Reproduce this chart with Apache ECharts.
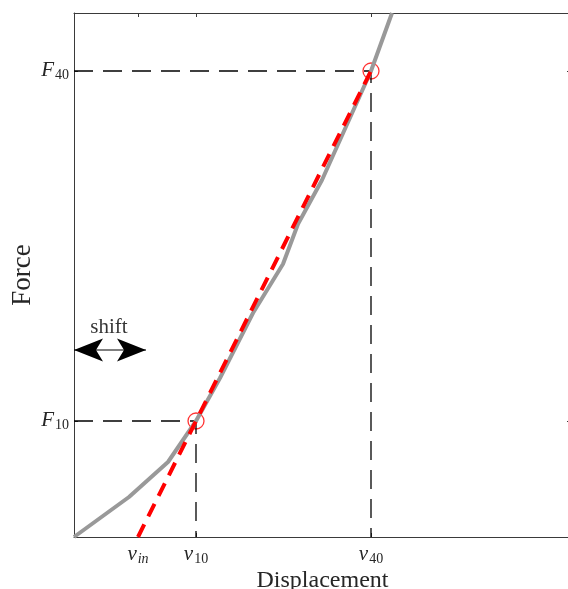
<!DOCTYPE html>
<html>
<head>
<meta charset="utf-8">
<script src="https://cdn.jsdelivr.net/npm/echarts@6/dist/echarts.min.js"></script>
<style>
html,body{margin:0;padding:0;background:#fff;}
#chart{width:568px;height:589px;}
</style>
</head>
<body>
<div id="chart"></div>
<script>
// Force-displacement curve (arbitrary units)
const curveX = [0, 55, 94, 122, 146, 179, 209, 224, 248, 297, 318];
const curveY = [0, 40, 75, 116, 159, 224, 273, 313, 357, 466, 524];
// Secant line through the 10% and 40% points, extended to zero force
const secantX = [64, 297];
const secantY = [0, 466];
// Marked points (v10,F10) and (v40,F40)
const markX = [122, 297];
const markY = [116, 466];
// Tick positions and labels
const xTickValues = [64, 122, 297];
const xTickLabels = ['{i|v}{subi|in}', '{i|v}{sub|10}', '{i|v}{sub|40}'];
const yTickValues = [116, 466];
const yTickLabels = ['{i|F}{sub|10}', '{i|F}{sub|40}'];
// Shift arrow annotation
const arrowX = [0, 72];
const arrowY = [187, 187];
const shiftText = 'shift';
const shiftPos = [35, 210];
const xName = 'Displacement';
const yName = 'Force';
const xMax = 497, yMax = 524;

const FONT = 'Liberation Serif';
const AX = '#3a3a3a';
const HEAD_L = 'path://M0 11.5 L29 0 L22 11.5 L29 23 Z';
const HEAD_R = 'path://M29 11.5 L0 0 L7 11.5 L0 23 Z';
const rich = {
  i: {fontFamily: FONT, fontStyle: 'italic', fontSize: 21, color: '#262626', lineHeight: 22, verticalAlign: 'top'},
  sub: {fontFamily: FONT, fontSize: 14, color: '#262626', lineHeight: 14, verticalAlign: 'bottom', padding: [9, 0, 0, 1]},
  subi: {fontFamily: FONT, fontStyle: 'italic', fontSize: 14, color: '#262626', lineHeight: 14, verticalAlign: 'bottom', padding: [9, 0, 0, 1]}
};

function xFmt(v) { const k = xTickValues.indexOf(v); return k >= 0 ? xTickLabels[k] : ''; }
function yFmt(v) { const k = yTickValues.indexOf(v); return k >= 0 ? yTickLabels[k] : ''; }

const chart = echarts.init(document.getElementById('chart'));
const axisCommon = {
  type: 'value', min: 0, splitLine: {show: false},
  axisLine: {show: true, onZero: false, lineStyle: {color: AX, width: 1}},
  axisTick: {show: true, inside: true, length: 4, lineStyle: {color: AX, width: 1}}
};
const option = {
  animation: false,
  backgroundColor: '#fff',
  grid: {left: 74, top: 13, width: xMax, height: yMax, containLabel: false, outerBoundsMode: 'none'},
  xAxis: [
    Object.assign({}, axisCommon, {
      max: xMax, position: 'bottom',
      axisTick: Object.assign({}, axisCommon.axisTick, {customValues: xTickValues}),
      axisLabel: {show: true, customValues: xTickValues, formatter: xFmt, margin: 7, rich: rich},
      name: xName, nameLocation: 'middle', nameGap: 32, nameMoveOverlap: false,
      nameTextStyle: {fontFamily: FONT, fontSize: 24, color: '#262626'}
    }),
    Object.assign({}, axisCommon, {
      max: xMax, position: 'top',
      axisTick: Object.assign({}, axisCommon.axisTick, {customValues: xTickValues}),
      axisLabel: {show: false}
    })
  ],
  yAxis: [
    Object.assign({}, axisCommon, {
      max: yMax, position: 'left',
      axisTick: Object.assign({}, axisCommon.axisTick, {customValues: yTickValues}),
      axisLabel: {show: true, customValues: yTickValues, formatter: yFmt, margin: 5, rich: rich},
      name: yName, nameLocation: 'middle', nameGap: 38, nameMoveOverlap: false,
      nameTextStyle: {fontFamily: FONT, fontSize: 27, color: '#262626'}
    }),
    Object.assign({}, axisCommon, {
      max: yMax, position: 'right',
      axisTick: Object.assign({}, axisCommon.axisTick, {customValues: yTickValues}),
      axisLabel: {show: false}
    })
  ],
  series: [
    {
      type: 'line', symbol: 'none', silent: true,
      data: [[0, markY[1]], [markX[1], markY[1]], [markX[1], 0]],
      lineStyle: {color: '#000', width: 1.3, type: [19, 10]}
    },
    {
      type: 'line', symbol: 'none', silent: true,
      data: [[0, markY[0]], [markX[0], markY[0]], [markX[0], 0]],
      lineStyle: {color: '#000', width: 1.3, type: [19, 10]}
    },
    {
      type: 'line', symbol: 'none', silent: true, clip: true,
      data: curveX.map((x, i) => [x, curveY[i]]),
      lineStyle: {color: '#999999', width: 4}
    },
    {
      type: 'line', symbol: 'none', silent: true,
      data: secantX.map((x, i) => [x, secantY[i]]),
      lineStyle: {color: '#ff0000', width: 4, type: [14, 9]}
    },
    {
      type: 'scatter', symbol: 'circle', symbolSize: 16, silent: true,
      data: markX.map((x, i) => [x, markY[i]]),
      itemStyle: {color: 'rgba(0,0,0,0)', borderColor: '#ff0000', borderWidth: 1.3}
    },
    {
      type: 'line', symbol: 'none', silent: true,
      data: arrowX.map((x, i) => [x, arrowY[i]]),
      lineStyle: {color: '#000', width: 1}
    },
    {
      type: 'scatter', silent: true, symbolSize: [29, 23],
      data: [
        {value: [arrowX[0], arrowY[0]], symbol: HEAD_L, symbolOffset: [14.5, 0]},
        {value: [arrowX[1], arrowY[1]], symbol: HEAD_R, symbolOffset: [-14.5, 0]}
      ],
      itemStyle: {color: '#000', opacity: 1}
    },
    {
      type: 'scatter', symbolSize: 0, silent: true,
      data: [shiftPos],
      label: {show: true, position: 'inside', formatter: shiftText, fontFamily: FONT, fontSize: 21, color: '#000'}
    }
  ]
};
chart.setOption(option);
</script>
</body>
</html>
